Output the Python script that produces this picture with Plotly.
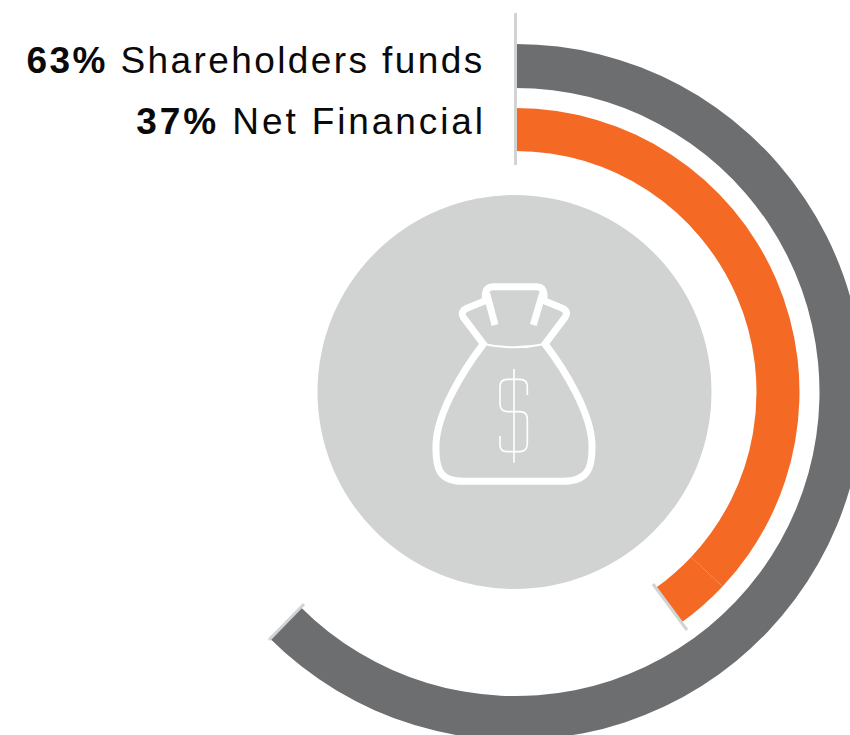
import re
import plotly.graph_objects as go

# Data
series = ["Shareholders funds", "Net Financial"]
shares = [63, 37]
# Arc lengths as actually drawn in the picture (percent of the circle)
grey_arc = 62.5
orange_arcs = [37, 3.1]
colors = ["#6d6e70", "#f46a25"]

W, H = 880, 760   # canvas is larger than the window; the window crops the outer ring
cx, cy = 515.5, 392

def dom(R):
    return dict(x=[(cx - R) / W, (cx + R) / W], y=[1 - (cy + R) / H, 1 - (cy - R) / H])

def to_paper(path, ox=0, oy=0, s=1.0):
    toks = re.findall(r"[MLQCZ]|-?[\d.]+", path)
    out, is_x = [], True
    for t in toks:
        if t.isalpha():
            out.append(t); is_x = True
        else:
            v = float(t)
            if is_x:
                out.append(f"{(ox + v * s) / W:.5f}")
            else:
                out.append(f"{1 - (oy + v * s) / H:.5f}")
            is_x = not is_x
    return " ".join(out)

fig = go.Figure()
fig.add_trace(go.Pie(values=[grey_arc, 100 - grey_arc], labels=[series[0], ""],
                     marker=dict(colors=[colors[0], "rgba(0,0,0,0)"], line=dict(width=0)),
                     hole=304 / 348, domain=dom(348), sort=False, direction="clockwise",
                     rotation=0, textinfo="none", hoverinfo="skip", showlegend=False))
fig.add_trace(go.Pie(values=orange_arcs + [100 - sum(orange_arcs)],
                     labels=[series[1], " ", ""],
                     marker=dict(colors=[colors[1], colors[1], "rgba(0,0,0,0)"], line=dict(width=0)),
                     hole=241 / 284, domain=dom(284), sort=False, direction="clockwise",
                     rotation=0, textinfo="none", hoverinfo="skip", showlegend=False))

tick = "#d1d3d4"
def line(x0, y0, x1, y1):
    return dict(type="line", xref="paper", yref="paper", x0=x0 / W, x1=x1 / W,
                y0=1 - y0 / H, y1=1 - y1 / H, line=dict(color=tick, width=3))

shapes = [
    dict(type="circle", xref="paper", yref="paper", x0=(514.5 - 197) / W, x1=(514.5 + 197) / W,
         y0=1 - (392 + 197) / H, y1=1 - (392 - 197) / H, fillcolor="#d1d3d2", line=dict(width=0), layer="below"),
    line(515.5, 13, 515.5, 165),
    line(653, 584, 687, 630),
    line(269, 640, 304, 604),
]

bag = ("M190 222 C130 300 50 430 48 525 C46 600 60 633 130 634 L430 634 C500 633 518 600 516 525 "
       "C514 430 435 300 375 222 L435 142 Q447 125 428 115 L372 92 L372 72 Q370 50 350 50 L220 50 "
       "Q198 50 196 72 L196 92 L140 115 Q120 125 130 142 L190 222 Z")
ties = "M200 70 L225 165 M368 70 L340 165"
neck = "M190 222 Q280 242 375 222"
dollar = ("M282 297 L282 578 M322 375 L322 350 Q322 328 300 328 L262 328 Q240 328 240 350 L240 400 "
          "Q240 425 262 425 L300 425 Q322 425 322 448 L322 520 Q322 545 300 545 L262 545 Q240 545 240 525 L240 498")
for p, w in [(bag, 7), (ties, 7), (neck, 2), (dollar, 1.6)]:
    shapes.append(dict(type="path", xref="paper", yref="paper",
                       path=to_paper(p, 420, 270, 1 / 3),
                       line=dict(color="white", width=w), fillcolor="rgba(0,0,0,0)"))

ann = []
for i, (xc, y) in enumerate([(255, 60), (310.5, 122)]):
    ann.append(dict(xref="paper", yref="paper", x=xc / W, y=1 - y / H, xanchor="center", yanchor="middle",
                    showarrow=False, align="center",
                    text=f"<b>{shares[i]}%</b> {series[i]}",
                    font=dict(family="Liberation Sans", size=37, color="#0a0a0a")))

fig.update_layout(width=W, height=H, autosize=False, margin=dict(l=0, r=0, t=0, b=0),
                  paper_bgcolor="white", plot_bgcolor="white", shapes=shapes, annotations=ann,
                  showlegend=False)
fig.write_html("out.html", config=dict(displayModeBar=False),
               post_script="document.documentElement.style.overflow='hidden';document.body.style.overflow='hidden';document.body.style.margin='0';"
                           "var sp=['2.4px','2.9px'];document.querySelectorAll('.annotation-text').forEach(function(t,i){t.style.letterSpacing=sp[i];});")
